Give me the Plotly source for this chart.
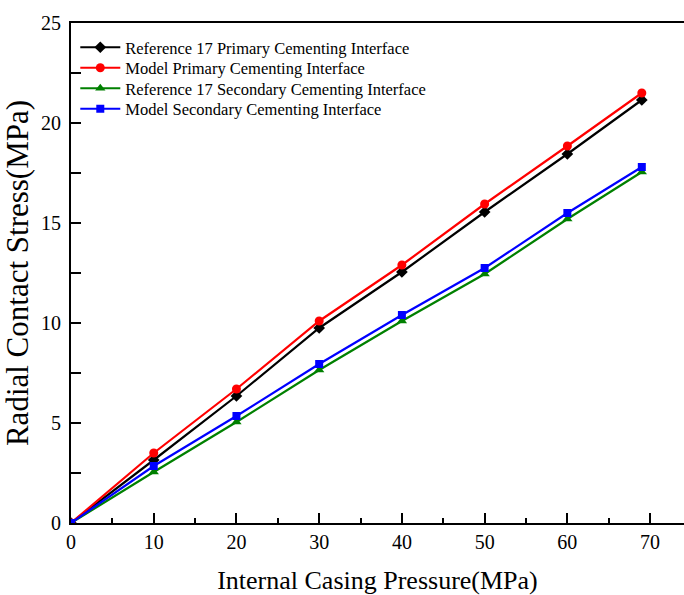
import plotly.graph_objects as go

pressure = [0, 10, 20, 30, 40, 50, 60, 69]
ref_primary = [0, 3.15, 6.35, 9.75, 12.55, 15.55, 18.45, 21.15]
model_primary = [0, 3.5, 6.7, 10.1, 12.9, 15.95, 18.85, 21.5]
ref_secondary = [0, 2.55, 5.05, 7.65, 10.1, 12.45, 15.2, 17.55]
model_secondary = [0, 2.85, 5.35, 7.95, 10.4, 12.75, 15.5, 17.8]

series = [
    ("Reference 17 Primary Cementing Interface", ref_primary, "black", "diamond", 9),
    ("Model Primary Cementing Interface", model_primary, "red", "circle", 9),
    ("Reference 17 Secondary Cementing Interface", ref_secondary, "green", "triangle-up", 9),
    ("Model Secondary Cementing Interface", model_secondary, "blue", "square", 8),
]

font_family = "Liberation Serif, Times New Roman, serif"

fig = go.Figure()
legend_names = ["legend", "legend2", "legend3", "legend4"]
row_px = [47.5, 68, 88.5, 109]
for (name, vals, color, sym, size), lg in zip(series, legend_names):
    fig.add_trace(go.Scatter(
        x=pressure, y=vals, name=name, mode="lines+markers",
        line=dict(color=color, width=2.2),
        marker=dict(symbol=sym, size=size, color=color),
        legend=lg,
    ))

legend_layout = {}
for lg, py in zip(legend_names, row_px):
    legend_layout[lg] = dict(
        x=0.007, y=(523 - py) / 500, xanchor="left", yanchor="middle",
        font=dict(family=font_family, size=16.5, color="black"),
        bgcolor="rgba(0,0,0,0)", itemwidth=40,
    )

fig.update_layout(
    width=684, height=595,
    margin=dict(l=71, r=0, t=23, b=72),
    plot_bgcolor="white", paper_bgcolor="white",
    font=dict(family=font_family, color="black", size=20),
    showlegend=True,
    xaxis=dict(
        range=[0, 74.1], tickvals=[0, 10, 20, 30, 40, 50, 60, 70],
        ticks="inside", ticklen=10, tickwidth=1.5, tickcolor="black",
        minor=dict(dtick=5, tick0=0, ticks="inside", ticklen=5, tickwidth=1.5, tickcolor="black"),
        showline=True, linecolor="black", linewidth=2, mirror=True,
        showgrid=False, zeroline=False, automargin=False,
        tickfont=dict(size=20),
        title=dict(text="Internal Casing Pressure(MPa)", font=dict(size=26), standoff=19),
    ),
    yaxis=dict(
        range=[0, 25], tickvals=[0, 5, 10, 15, 20, 25],
        ticks="inside", ticklen=10, tickwidth=1.5, tickcolor="black",
        minor=dict(dtick=2.5, tick0=0, ticks="inside", ticklen=10, tickwidth=1.5, tickcolor="black"),
        showline=True, linecolor="black", linewidth=2, mirror=False,
        showgrid=False, zeroline=False, automargin=False,
        tickfont=dict(size=20), ticklabelstandoff=4,
        title=dict(text="Radial Contact Stress(MPa)", font=dict(size=31), standoff=15),
    ),
    **legend_layout,
)

fig.write_html(
    "out.html",
    config={"displayModeBar": False},
    post_script="document.body.style.margin='0';document.body.style.overflow='hidden';",
)
